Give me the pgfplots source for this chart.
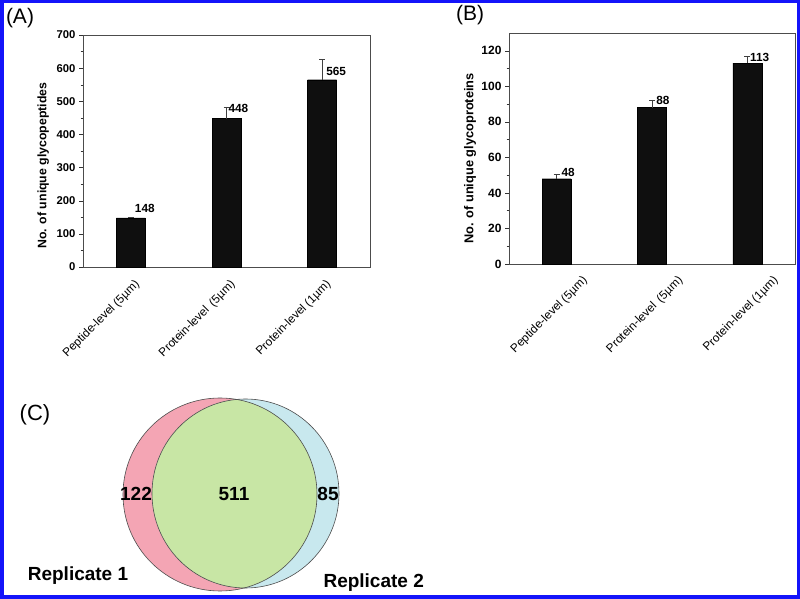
\documentclass[border=0pt]{standalone}
\usepackage{pgfplots}
\pgfplotsset{compat=1.18}
\usepackage{fontspec}
\setmainfont{Liberation Sans}
\definecolor{vpink}{RGB}{244,165,180}
\definecolor{vblue}{RGB}{200,232,238}
\definecolor{vgreen}{RGB}{200,230,165}
\definecolor{frameblue}{RGB}{20,20,250}
\definecolor{barblack}{RGB}{15,15,15}
\tikzset{vlab/.style={font=\bfseries\fontsize{11.8}{12}\selectfont}}
\begin{document}
\begin{tikzpicture}
\useasboundingbox (0pt,0pt) rectangle (800pt,599pt);
\pgfplotsset{
  xtlx/.initial=3pt, xtly/.initial=-3pt,
  barax/.style={
    scale only axis, anchor=south west,
    xmin=0.5, xmax=3.5,
    xtick={1,2,3},
    xticklabels={Peptide-level (5µm),Protein-level\hspace{0.45em}(5µm),Protein-level (1µm)},
    x tick label style={xshift=\pgfkeysvalueof{/pgfplots/xtlx}, yshift=\pgfkeysvalueof{/pgfplots/xtly}, rotate=45, anchor=north east, font=\fontsize{11.8}{12}\selectfont},
    /pgf/number format/assume math mode=true,
    tick align=outside, xtick style={draw=none},
    ytick pos=left, minor y tick num=1,
    major tick length=4pt, minor tick length=2.5pt,
    axis line style={gray!60!black},
    every tick/.style={gray!40!black},
    clip=false,
  },
  barplot/.style={
    ybar, bar width=29pt, fill=barblack, draw=black,
    error bars/.cd, y dir=plus, y explicit,
    error bar style={gray!50!black, line width=0.6pt},
    error mark options={rotate=90, mark size=3pt, gray!50!black, line width=0.6pt},
  },
}
% Panel A
\begin{axis}[barax, at={(83pt,332pt)}, width=287pt, height=232pt,
  xtlx=3pt, xtly=-3pt,
  ymin=0, ymax=700, ytick={0,100,...,700},
  y tick label style={font=\bfseries\fontsize{11.3}{12}\selectfont},
  ylabel={No. of unique glycopeptides},
  ylabel style={font=\bfseries\fontsize{12.3}{13}\selectfont, anchor=center, at={(axis description cs:-0.139,0.4375)}}]
\addplot[barplot] coordinates {(1,148) +- (0,2) (2,448) +- (0,35) (3,565) +- (0,62)};
\node[vlab] at (axis cs:1.146,178) {148};
\node[vlab] at (axis cs:2.125,477) {448};
\node[vlab] at (axis cs:3.146,591) {565};
\end{axis}
% Panel B
\begin{axis}[barax, at={(509pt,335pt)}, width=286pt, height=231pt,
  xtlx=25pt, xtly=-2pt,
  ymin=0, ymax=130, ytick={0,20,...,120},
  y tick label style={font=\bfseries\fontsize{12}{13}\selectfont},
  ylabel={No. of unique glycoproteins},
  ylabel style={font=\bfseries\fontsize{12.8}{13}\selectfont, anchor=center, at={(axis description cs:-0.136,0.457)}}]
\addplot[barplot] coordinates {(1,48) +- (0,2.5) (2,88) +- (0,4.3) (3,113) +- (0,4)};
\node[vlab] at (axis cs:1.12,51.8) {48};
\node[vlab] at (axis cs:2.115,92.3) {88};
\node[vlab] at (axis cs:3.13,116.5) {113};
\end{axis}
% Panel C (Venn) in pixel coordinates
\begin{axis}[hide axis, scale only axis, anchor=south west, at={(0pt,0pt)},
  width=800pt, height=599pt, xmin=0, xmax=800, ymin=0, ymax=599, clip=false]
\fill[vpink] (axis cs:220,104.5) ellipse [x radius=97, y radius=96.5];
\fill[vblue] (axis cs:245.5,105.5) ellipse [x radius=93.5, y radius=94.5];
\begin{scope}
\clip (axis cs:220,104.5) ellipse [x radius=97, y radius=96.5];
\fill[vgreen] (axis cs:245.5,105.5) ellipse [x radius=93.5, y radius=94.5];
\end{scope}
\draw[gray!60!black, line width=0.6pt] (axis cs:220,104.5) ellipse [x radius=97, y radius=96.5];
\draw[gray!60!black, line width=0.6pt] (axis cs:245.5,105.5) ellipse [x radius=93.5, y radius=94.5];
\node[font=\bfseries\fontsize{19}{20}\selectfont] at (axis cs:136,105) {122};
\node[font=\bfseries\fontsize{19}{20}\selectfont] at (axis cs:234,105) {511};
\node[font=\bfseries\fontsize{19}{20}\selectfont] at (axis cs:328,105) {85};
\node[font=\bfseries\fontsize{19}{20}\selectfont] at (axis cs:78,23) {Replicate 1};
\node[font=\bfseries\fontsize{19}{20}\selectfont, anchor=west] at (axis cs:320,16) {Replicate 2};
\node[font=\fontsize{22}{24}\selectfont] at (axis cs:35,184) {(C)};
\node[font=\fontsize{21}{24}\selectfont] at (axis cs:20,581) {(A)};
\node[font=\fontsize{21}{24}\selectfont] at (axis cs:470,584) {(B)};
\end{axis}
\draw[frameblue, line width=3.5pt] (1.75pt,1.75pt) rectangle (798.25pt,597.25pt);
\end{tikzpicture}
\end{document}
